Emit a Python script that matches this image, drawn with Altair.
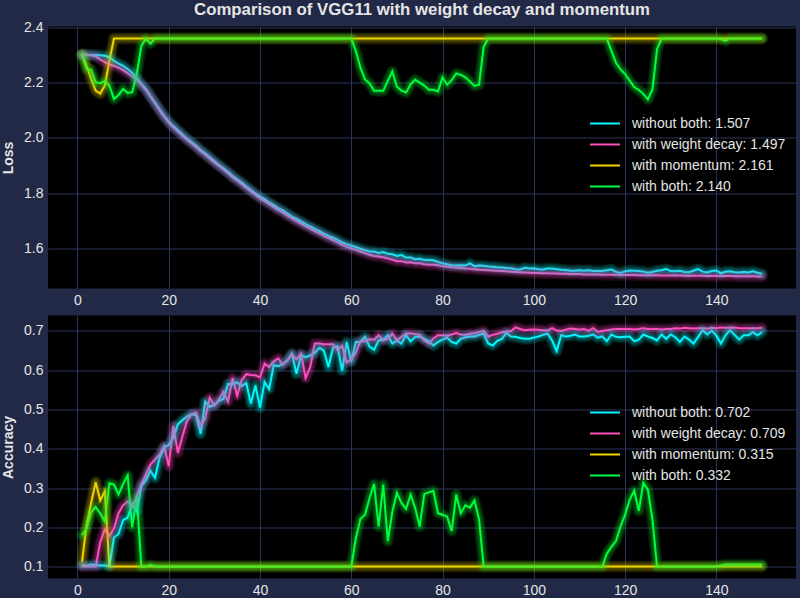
import altair as alt
import pandas as pd

epochs = list(range(1, 151))
names = ["without both", "with weight decay", "with momentum", "with both"]
colors = ["#08F7FE", "#FE53BB", "#F5D300", "#00FF41"]

loss_without = [
    2.302, 2.302, 2.301, 2.301, 2.300, 2.298, 2.293, 2.280, 2.270, 2.262,
    2.250, 2.236, 2.218, 2.196, 2.178, 2.152, 2.128, 2.104, 2.080, 2.060,
    2.043, 2.028, 2.013, 1.998, 1.985, 1.972, 1.956, 1.944, 1.930, 1.916,
    1.902, 1.890, 1.877, 1.862, 1.850, 1.838, 1.824, 1.811, 1.798, 1.787,
    1.778, 1.766, 1.756, 1.745, 1.737, 1.726, 1.715, 1.706, 1.697, 1.687,
    1.679, 1.670, 1.662, 1.653, 1.645, 1.638, 1.630, 1.621, 1.615, 1.609,
    1.604, 1.598, 1.593, 1.588, 1.588, 1.583, 1.586, 1.580, 1.578, 1.572,
    1.575, 1.566, 1.566, 1.560, 1.562, 1.557, 1.557, 1.556, 1.550, 1.545,
    1.542, 1.538, 1.537, 1.538, 1.537, 1.545, 1.535, 1.537, 1.536, 1.534,
    1.533, 1.531, 1.530, 1.528, 1.527, 1.524, 1.523, 1.529, 1.526, 1.527,
    1.524, 1.523, 1.526, 1.526, 1.524, 1.522, 1.521, 1.518, 1.518, 1.520,
    1.518, 1.520, 1.517, 1.517, 1.517, 1.520, 1.523, 1.514, 1.510, 1.516,
    1.519, 1.518, 1.517, 1.515, 1.511, 1.514, 1.518, 1.520, 1.524, 1.517,
    1.516, 1.518, 1.514, 1.513, 1.518, 1.524, 1.515, 1.512, 1.517, 1.519,
    1.509, 1.515, 1.516, 1.513, 1.512, 1.514, 1.512, 1.516, 1.511, 1.507,
]
loss_wd = [
    2.302, 2.302, 2.300, 2.296, 2.285, 2.275, 2.266, 2.262, 2.255, 2.246,
    2.235, 2.224, 2.212, 2.193, 2.174, 2.150, 2.125, 2.100, 2.077, 2.056,
    2.039, 2.023, 2.008, 1.994, 1.980, 1.967, 1.952, 1.939, 1.925, 1.911,
    1.898, 1.885, 1.872, 1.857, 1.845, 1.832, 1.819, 1.806, 1.794, 1.781,
    1.771, 1.760, 1.749, 1.738, 1.729, 1.718, 1.708, 1.698, 1.689, 1.679,
    1.671, 1.662, 1.654, 1.645, 1.637, 1.629, 1.621, 1.612, 1.605, 1.599,
    1.594, 1.588, 1.582, 1.576, 1.572, 1.570, 1.567, 1.563, 1.558, 1.553,
    1.553, 1.548, 1.549, 1.545, 1.545, 1.542, 1.540, 1.540, 1.538, 1.535,
    1.533, 1.531, 1.530, 1.528, 1.526, 1.525, 1.524, 1.522, 1.521, 1.520,
    1.519, 1.518, 1.517, 1.516, 1.515, 1.514, 1.513, 1.512, 1.511, 1.510,
    1.510, 1.509, 1.509, 1.508, 1.508, 1.507, 1.507, 1.506, 1.506, 1.506,
    1.505, 1.505, 1.505, 1.505, 1.504, 1.504, 1.504, 1.504, 1.503, 1.503,
    1.503, 1.503, 1.502, 1.502, 1.502, 1.502, 1.502, 1.501, 1.501, 1.501,
    1.501, 1.501, 1.500, 1.500, 1.500, 1.500, 1.500, 1.499, 1.499, 1.499,
    1.499, 1.499, 1.499, 1.498, 1.498, 1.498, 1.498, 1.498, 1.497, 1.497,
]
loss_mom = [
    2.304, 2.262, 2.215, 2.172, 2.161, 2.190, 2.280, 2.361, 2.361, 2.361,
    2.361, 2.361, 2.361, 2.361, 2.361, 2.361, 2.361, 2.361, 2.361, 2.361,
    2.361, 2.361, 2.361, 2.361, 2.361, 2.361, 2.361, 2.361, 2.361, 2.361,
    2.361, 2.361, 2.361, 2.361, 2.361, 2.361, 2.361, 2.361, 2.361, 2.361,
    2.361, 2.361, 2.361, 2.361, 2.361, 2.361, 2.361, 2.361, 2.361, 2.361,
    2.361, 2.361, 2.361, 2.361, 2.361, 2.361, 2.361, 2.361, 2.361, 2.361,
    2.361, 2.361, 2.361, 2.361, 2.361, 2.361, 2.361, 2.361, 2.361, 2.361,
    2.361, 2.361, 2.361, 2.361, 2.361, 2.361, 2.361, 2.361, 2.361, 2.361,
    2.361, 2.361, 2.361, 2.361, 2.361, 2.361, 2.361, 2.361, 2.361, 2.361,
    2.361, 2.361, 2.361, 2.361, 2.361, 2.361, 2.361, 2.361, 2.361, 2.361,
    2.361, 2.361, 2.361, 2.361, 2.361, 2.361, 2.361, 2.361, 2.361, 2.361,
    2.361, 2.361, 2.361, 2.361, 2.361, 2.361, 2.361, 2.361, 2.361, 2.361,
    2.361, 2.361, 2.361, 2.361, 2.361, 2.361, 2.361, 2.361, 2.361, 2.361,
    2.361, 2.361, 2.361, 2.361, 2.361, 2.361, 2.361, 2.361, 2.361, 2.361,
    2.361, 2.361, 2.361, 2.361, 2.361, 2.361, 2.361, 2.361, 2.361, 2.361,
]
loss_both = [
    2.302, 2.250, 2.247, 2.202, 2.199, 2.206, 2.190, 2.141, 2.156, 2.178,
    2.163, 2.166, 2.232, 2.334, 2.361, 2.342, 2.361, 2.361, 2.361, 2.361,
    2.361, 2.361, 2.361, 2.361, 2.361, 2.361, 2.361, 2.361, 2.361, 2.361,
    2.361, 2.361, 2.361, 2.361, 2.361, 2.361, 2.361, 2.361, 2.361, 2.361,
    2.361, 2.361, 2.361, 2.361, 2.361, 2.361, 2.361, 2.361, 2.361, 2.361,
    2.361, 2.361, 2.361, 2.361, 2.361, 2.361, 2.361, 2.361, 2.361, 2.361,
    2.316, 2.255, 2.213, 2.198, 2.171, 2.171, 2.171, 2.207, 2.241, 2.186,
    2.172, 2.165, 2.195, 2.211, 2.201, 2.190, 2.175, 2.175, 2.169, 2.219,
    2.193, 2.210, 2.234, 2.229, 2.220, 2.205, 2.189, 2.193, 2.330, 2.361,
    2.361, 2.361, 2.361, 2.361, 2.361, 2.361, 2.361, 2.361, 2.361, 2.361,
    2.361, 2.361, 2.361, 2.361, 2.361, 2.361, 2.361, 2.361, 2.361, 2.361,
    2.361, 2.361, 2.361, 2.361, 2.361, 2.361, 2.316, 2.273, 2.249, 2.232,
    2.208, 2.185, 2.174, 2.160, 2.140, 2.177, 2.322, 2.361, 2.361, 2.361,
    2.361, 2.361, 2.361, 2.361, 2.361, 2.361, 2.361, 2.361, 2.361, 2.361,
    2.358, 2.352, 2.361, 2.361, 2.361, 2.361, 2.361, 2.361, 2.361, 2.361,
]

acc_without = [
    0.103, 0.103, 0.105, 0.104, 0.103, 0.103, 0.101, 0.174, 0.183, 0.218,
    0.225, 0.259, 0.240, 0.305, 0.320, 0.344, 0.326, 0.377, 0.403, 0.410,
    0.428, 0.462, 0.473, 0.482, 0.488, 0.485, 0.438, 0.520, 0.507, 0.512,
    0.522, 0.527, 0.565, 0.565, 0.569, 0.560, 0.567, 0.515, 0.561, 0.505,
    0.570, 0.552, 0.613, 0.610, 0.616, 0.625, 0.642, 0.591, 0.638, 0.633,
    0.638, 0.644, 0.657, 0.650, 0.608, 0.657, 0.661, 0.599, 0.672, 0.622,
    0.672, 0.672, 0.685, 0.660, 0.652, 0.676, 0.678, 0.689, 0.668, 0.676,
    0.668, 0.689, 0.674, 0.685, 0.686, 0.680, 0.674, 0.663, 0.672, 0.678,
    0.683, 0.672, 0.668, 0.680, 0.684, 0.686, 0.686, 0.690, 0.693, 0.668,
    0.663, 0.675, 0.680, 0.695, 0.686, 0.685, 0.682, 0.680, 0.680, 0.683,
    0.686, 0.690, 0.693, 0.676, 0.649, 0.689, 0.686, 0.688, 0.691, 0.686,
    0.686, 0.688, 0.691, 0.683, 0.686, 0.674, 0.691, 0.685, 0.684, 0.685,
    0.686, 0.674, 0.678, 0.691, 0.686, 0.682, 0.676, 0.691, 0.680, 0.691,
    0.684, 0.672, 0.686, 0.678, 0.668, 0.685, 0.702, 0.691, 0.701, 0.688,
    0.668, 0.689, 0.702, 0.690, 0.678, 0.689, 0.689, 0.697, 0.689, 0.697,
]
acc_wd = [
    0.100, 0.100, 0.100, 0.100, 0.162, 0.195, 0.178, 0.197, 0.236, 0.256,
    0.266, 0.253, 0.279, 0.309, 0.334, 0.360, 0.373, 0.385, 0.407, 0.356,
    0.458, 0.390, 0.432, 0.471, 0.488, 0.492, 0.458, 0.478, 0.530, 0.510,
    0.525, 0.545, 0.520, 0.580, 0.535, 0.575, 0.590, 0.588, 0.587, 0.582,
    0.617, 0.608, 0.622, 0.630, 0.614, 0.625, 0.640, 0.628, 0.642, 0.580,
    0.608, 0.668, 0.668, 0.666, 0.666, 0.666, 0.652, 0.662, 0.620, 0.628,
    0.645, 0.674, 0.674, 0.679, 0.678, 0.689, 0.676, 0.680, 0.693, 0.676,
    0.685, 0.693, 0.694, 0.692, 0.690, 0.676, 0.668, 0.681, 0.689, 0.689,
    0.688, 0.691, 0.695, 0.691, 0.690, 0.693, 0.694, 0.697, 0.700, 0.686,
    0.690, 0.693, 0.697, 0.698, 0.700, 0.709, 0.705, 0.702, 0.703, 0.704,
    0.703, 0.702, 0.701, 0.707, 0.701, 0.700, 0.703, 0.706, 0.705, 0.704,
    0.705, 0.701, 0.707, 0.698, 0.700, 0.702, 0.704, 0.705, 0.705, 0.705,
    0.705, 0.704, 0.705, 0.707, 0.705, 0.705, 0.705, 0.704, 0.705, 0.705,
    0.707, 0.706, 0.708, 0.707, 0.706, 0.707, 0.707, 0.706, 0.708, 0.707,
    0.709, 0.708, 0.708, 0.709, 0.707, 0.707, 0.707, 0.707, 0.707, 0.708,
]
acc_mom = [
    0.112, 0.205, 0.262, 0.315, 0.268, 0.292, 0.100, 0.100, 0.100, 0.100,
    0.100, 0.100, 0.100, 0.100, 0.100, 0.100, 0.100, 0.100, 0.100, 0.100,
    0.100, 0.100, 0.100, 0.100, 0.100, 0.100, 0.100, 0.100, 0.100, 0.100,
    0.100, 0.100, 0.100, 0.100, 0.100, 0.100, 0.100, 0.100, 0.100, 0.100,
    0.100, 0.100, 0.100, 0.100, 0.100, 0.100, 0.100, 0.100, 0.100, 0.100,
    0.100, 0.100, 0.100, 0.100, 0.100, 0.100, 0.100, 0.100, 0.100, 0.100,
    0.100, 0.100, 0.100, 0.100, 0.100, 0.100, 0.100, 0.100, 0.100, 0.100,
    0.100, 0.100, 0.100, 0.100, 0.100, 0.100, 0.100, 0.100, 0.100, 0.100,
    0.100, 0.100, 0.100, 0.100, 0.100, 0.100, 0.100, 0.100, 0.100, 0.100,
    0.100, 0.100, 0.100, 0.100, 0.100, 0.100, 0.100, 0.100, 0.100, 0.100,
    0.100, 0.100, 0.100, 0.100, 0.100, 0.100, 0.100, 0.100, 0.100, 0.100,
    0.100, 0.100, 0.100, 0.100, 0.100, 0.100, 0.100, 0.100, 0.100, 0.100,
    0.100, 0.100, 0.100, 0.100, 0.100, 0.100, 0.100, 0.100, 0.100, 0.100,
    0.100, 0.100, 0.100, 0.100, 0.100, 0.100, 0.100, 0.100, 0.100, 0.100,
    0.100, 0.100, 0.100, 0.100, 0.100, 0.100, 0.100, 0.100, 0.100, 0.100,
]
acc_both = [
    0.180, 0.197, 0.238, 0.252, 0.235, 0.215, 0.312, 0.309, 0.284, 0.310,
    0.332, 0.200, 0.279, 0.100, 0.100, 0.104, 0.100, 0.100, 0.100, 0.100,
    0.100, 0.100, 0.100, 0.100, 0.100, 0.100, 0.100, 0.100, 0.100, 0.100,
    0.100, 0.100, 0.100, 0.100, 0.100, 0.100, 0.100, 0.100, 0.100, 0.100,
    0.100, 0.100, 0.100, 0.100, 0.100, 0.100, 0.100, 0.100, 0.100, 0.100,
    0.100, 0.100, 0.100, 0.100, 0.100, 0.100, 0.100, 0.100, 0.100, 0.100,
    0.172, 0.221, 0.232, 0.274, 0.310, 0.202, 0.309, 0.165, 0.240, 0.288,
    0.262, 0.247, 0.283, 0.249, 0.202, 0.285, 0.289, 0.293, 0.236, 0.232,
    0.227, 0.191, 0.283, 0.236, 0.256, 0.250, 0.268, 0.221, 0.100, 0.100,
    0.100, 0.100, 0.100, 0.100, 0.100, 0.100, 0.100, 0.100, 0.100, 0.100,
    0.100, 0.100, 0.100, 0.100, 0.100, 0.100, 0.100, 0.100, 0.100, 0.100,
    0.100, 0.100, 0.100, 0.100, 0.100, 0.133, 0.150, 0.165, 0.202, 0.232,
    0.270, 0.293, 0.242, 0.313, 0.296, 0.219, 0.100, 0.100, 0.100, 0.100,
    0.100, 0.100, 0.100, 0.100, 0.100, 0.100, 0.100, 0.100, 0.100, 0.100,
    0.103, 0.105, 0.105, 0.105, 0.105, 0.105, 0.105, 0.105, 0.105, 0.105,
]

x_ticks = [0, 20, 40, 60, 80, 100, 120, 140]
loss_ticks = [1.6, 1.8, 2.0, 2.2, 2.4]
acc_ticks = [0.1, 0.2, 0.3, 0.4, 0.5, 0.6, 0.7]

TEXT = "#e5e5e5"
FONT = "Liberation Sans"


def build_df(series, agg):
    rows, labels = [], []
    for name, vals in zip(names, series):
        assert len(vals) == len(epochs)
        lab = f"{name}: {agg(vals):.3f}"
        labels.append(lab)
        for e, v in zip(epochs, vals):
            rows.append({"epoch": e, "value": v, "series": lab})
    return pd.DataFrame(rows), labels


def panel(df, labels, ydomain, yticks, ytitle, height):
    base = alt.Chart(df)
    x = alt.X("epoch:Q",
              scale=alt.Scale(domain=[-6.45, 157.45], nice=False, zero=False),
              axis=alt.Axis(values=x_ticks, title=None, labelFlush=False, format="d"))
    y = alt.Y("value:Q",
              scale=alt.Scale(domain=ydomain, nice=False, zero=False),
              axis=alt.Axis(values=yticks, format=".1f", title=ytitle, labelFlush=False))
    cscale = alt.Scale(domain=labels, range=colors)
    glow = []
    for n in range(1, 11):
        glow.append(
            base.mark_line(strokeWidth=2 + 1.05 * n, opacity=0.05,
                           strokeJoin="round", strokeCap="round", clip=True)
            .encode(x=x, y=y, color=alt.Color("series:N", scale=cscale, legend=None))
        )
    legend = alt.Legend(
        orient="none", legendX=550, legendY=90, padding=0, title=None,
        symbolType="M-3,0H3", symbolSize=100, symbolStrokeWidth=2,
        symbolOpacity=1, labelFontSize=14, labelColor=TEXT, labelFont=FONT,
        labelOffset=20, rowPadding=7, labelLimit=400,
    )
    mains = []
    for lab in labels:
        mains.append(
            base.transform_filter(alt.datum.series == lab)
            .mark_line(strokeWidth=2, clip=True)
            .encode(x=x, y=y, color=alt.Color("series:N", scale=cscale, legend=legend))
        )
    return alt.layer(*mains, *glow).properties(width=748, height=height)


loss_df, loss_labels = build_df([loss_without, loss_wd, loss_mom, loss_both], min)
acc_df, acc_labels = build_df([acc_without, acc_wd, acc_mom, acc_both], max)

top = panel(loss_df, loss_labels, [1.4538, 2.4044], loss_ticks, "Loss", 262).properties(
    title=alt.TitleParams(
        "Comparison of VGG11 with weight decay and momentum",
        anchor="middle", font=FONT, fontSize=16.8, fontWeight="bold",
        color=TEXT, baseline="alphabetic", offset=-11.5,
    )
)
bottom = panel(acc_df, acc_labels, [0.0696, 0.7394], acc_ticks, "Accuracy", 263)

chart = (
    alt.vconcat(top, bottom, spacing=27, bounds="flush")
    .resolve_scale(color="independent")
    .resolve_legend(color="independent")
    .properties(
        padding={"left": 1, "top": 1.5, "right": 4, "bottom": 0},
        background="#212946",
    )
    .configure_view(fill="#000000", strokeWidth=0)
    .configure_axis(
        grid=True, gridColor="#2A3459", gridWidth=1, domain=False, ticks=False,
        tickSize=0, labelColor=TEXT, labelFont=FONT, labelFontSize=14,
        labelPadding=5, titleColor=TEXT, titleFont=FONT, titleFontSize=14,
        titleFontWeight="bold", titlePadding=8,
    )
)

chart.save("out.html", embed_options={"renderer": "svg", "actions": False})
